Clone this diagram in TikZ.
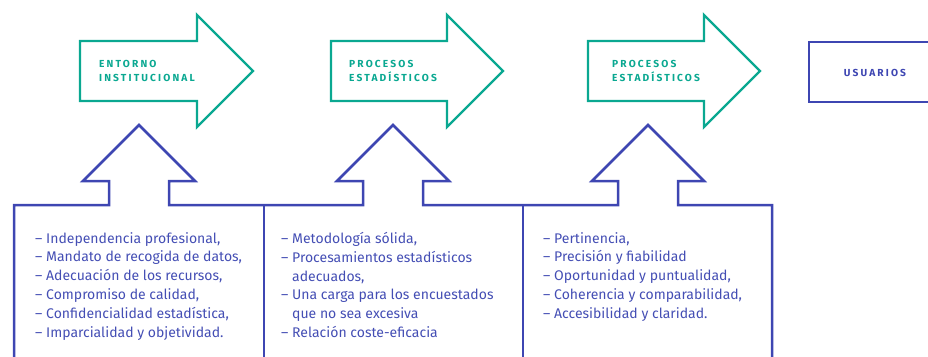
\documentclass[tikz,border=0pt]{standalone}
\usepackage{fontspec}
\setmainfont{Fira Sans}
\newfontfamily\titulofont[LetterSpace=21]{Fira Sans Bold}
\usepackage{xcolor}
\usepackage{tikz}
\usetikzlibrary{calc}
\definecolor{verde}{RGB}{10,168,145}
\definecolor{azul}{RGB}{62,70,178}
\definecolor{azultexto}{RGB}{68,78,180}

\begin{document}
\begin{tikzpicture}[x=1pt,y=-1pt,
    flecha/.style={draw=verde, line width=2.4pt, line join=miter},
    marco/.style={draw=azul, line width=2.5pt, line join=miter},
    titulo/.style={inner sep=0pt, anchor=north west, align=left, font=\titulofont\fontsize{10.2}{14}\selectfont},
    lista/.style={inner sep=0pt, anchor=north west, align=left, text=azultexto, font=\fontsize{14}{18.8}\selectfont}]
        \useasboundingbox (0,0) rectangle (928,356);
        %FLECHAS VERDES
        \draw[flecha] (80,41) -- (197,41) -- (197,15) -- (253,71) -- (197,127) -- (197,101) -- (80,101) -- cycle;
        \draw[flecha] (331,41) -- (447,41) -- (447,15) -- (503,71) -- (447,127) -- (447,101) -- (331,101) -- cycle;
        \draw[flecha] (588,41) -- (704,41) -- (704,15) -- (760,71) -- (704,127) -- (704,101) -- (588,101) -- cycle;
        \node[titulo, text=verde] (entorno) at (99,60) {ENTORNO\\INSTITUCIONAL};
        \node[titulo, text=verde] (procesos) at (349,60) {PROCESOS\\ESTADÍSTICOS};
        \node[titulo, text=verde] (productos) at (612,60) {PROCESOS\\ESTADÍSTICOS};
        %USUARIOS
        \draw[marco] (940,42) -- (809,42) -- (809,102) -- (940,102);
        \node[titulo, anchor=center, text=azul] (usuarios) at (875,73) {USUARIOS};
        %CAJAS CON FLECHA HACIA ARRIBA
        \draw[marco] (14,362) -- (14,205) -- (109,205) -- (109,181) -- (83,181) -- (139,125) -- (195,181) -- (169,181) -- (169,205)
            -- (363,205) -- (363,181) -- (337,181) -- (393,125) -- (449,181) -- (423,181) -- (423,205)
            -- (618,205) -- (618,181) -- (592,181) -- (648,125) -- (704,181) -- (678,181) -- (678,205)
            -- (772,205) -- (772,362);
        \draw[marco] (264,205) -- (264,362);
        \draw[marco] (523,205) -- (523,362);
        %TEXTOS
        \node[lista] (entornolista) at (35,232) {– Independencia profesional,\\– Mandato de recogida de datos,\\– Adecuación de los recursos,\\– Compromiso de calidad,\\– Confidencialidad estadística,\\– Imparcialidad y objetividad.};
        \node[lista] (procesoslista) at (281,232) {– Metodología sólida,\\– Procesamientos estadísticos\\\phantom{– }adecuados,\\– Una carga para los encuestados\\\phantom{– }que no sea excesiva\\– Relación coste-eficacia};
        \node[lista] (productoslista) at (543,232) {– Pertinencia,\\– Precisión y fiabilidad\\– Oportunidad y puntualidad,\\– Coherencia y comparabilidad,\\– Accesibilidad y claridad.};
    \end{tikzpicture}
\end{document}
